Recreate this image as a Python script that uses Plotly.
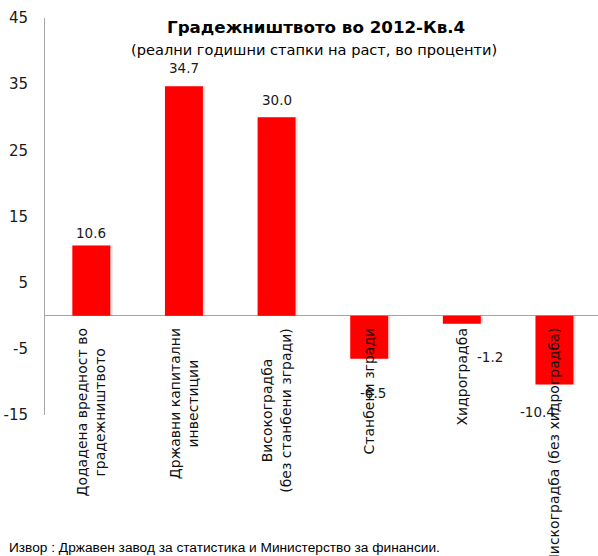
import plotly.graph_objects as go

categories = [
    "Додадена вредност во<br>градежништвото",
    "Државни капитални<br>инвестиции",
    "Високоградба<br>(без станбени згради)",
    "Станбени згради",
    "Хидроградба",
    "Нискоградба (без хидроградба)",
]
values = [10.6, 34.7, 30.0, -6.5, -1.2, -10.4]
value_labels = ["10.6", "34.7", "30.0", "-6.5", "-1.2", "-10.4"]
# manual label nudges (pixels) as placed in the original chart
label_dx = [0, 0, 0, 4, 28, -17]
label_dy = [13, 18, 17, -34, -33, -27]

y_ticks = [-15, -5, 5, 15, 25, 35, 45]

FONT = "DejaVu Sans"
x = list(range(len(categories)))
bw = 0.41

fig = go.Figure()
# soft shadow
fig.add_trace(go.Bar(
    x=x, y=values, width=bw, offset=-bw / 2 + 0.025,
    marker=dict(color="rgba(0,0,0,0.11)", line=dict(width=0)),
    hoverinfo="skip", showlegend=False,
))
fig.add_trace(go.Bar(
    x=x, y=values, width=bw, offset=-bw / 2,
    marker=dict(color="#ff0000", line=dict(width=0)),
    showlegend=False,
))

annotations = []
for i, (v, t) in enumerate(zip(values, value_labels)):
    annotations.append(dict(
        x=i, y=v, xref="x", yref="y", text=t, showarrow=False,
        xanchor="center", yanchor="middle",
        xshift=label_dx[i], yshift=label_dy[i],
        font=dict(family=FONT, size=13.5, color="#1a1a1a"),
    ))
for i, c in enumerate(categories):
    annotations.append(dict(
        x=i, y=0, xref="x", yref="y", text=c, showarrow=False,
        textangle=-90, xanchor="center", yanchor="top", yshift=-10,
        align="center",
        font=dict(family=FONT, size=14, color="#111"),
    ))
annotations += [
    dict(x=316, y=556 - 27, xref="paper", yref="paper", text="<b>Градежништвото во 2012-Кв.4</b>",
         showarrow=False, xanchor="center", yanchor="middle",
         font=dict(family=FONT, size=16.7, color="#000")),
    dict(x=314, y=556 - 49, xref="paper", yref="paper",
         text="(реални годишни стапки на раст, во проценти)",
         showarrow=False, xanchor="center", yanchor="middle",
         font=dict(family=FONT, size=14.6, color="#000")),
    dict(x=7, y=556 - 547, xref="paper", yref="paper",
         text="Извор : Државен завод за статистика и Министерство за финансии.",
         showarrow=False, xanchor="left", yanchor="middle",
         font=dict(family="Liberation Sans", size=13.7, color="#000")),
]

# convert pixel-positioned paper annotations to paper fractions
L, R, T, B = 45, 0, 18, 141
W, H = 598, 556
pw, ph = W - L - R, H - T - B
for a in annotations:
    if a["xref"] == "paper":
        a["x"] = (a["x"] - L) / pw
        a["y"] = (a["y"] - B) / ph

fig.update_layout(
    width=W, height=H,
    margin=dict(l=L, r=R, t=T, b=B, pad=0),
    paper_bgcolor="white", plot_bgcolor="white",
    barmode="overlay",
    annotations=annotations,
    xaxis=dict(range=[-0.5, 5.47], showticklabels=False, showline=False,
               showgrid=False, zeroline=False, ticks=""),
    yaxis=dict(range=[-15, 45], tickvals=y_ticks, ticktext=[str(t) for t in y_ticks],
               showgrid=False, showline=True, linecolor="#a6a6a6", linewidth=1,
               zeroline=True, zerolinecolor="#a6a6a6", zerolinewidth=1,
               ticks="", ticklabelstandoff=13,
               tickfont=dict(family=FONT, size=15, color="#1a1a1a")),
)

fig.write_html("out.html")
